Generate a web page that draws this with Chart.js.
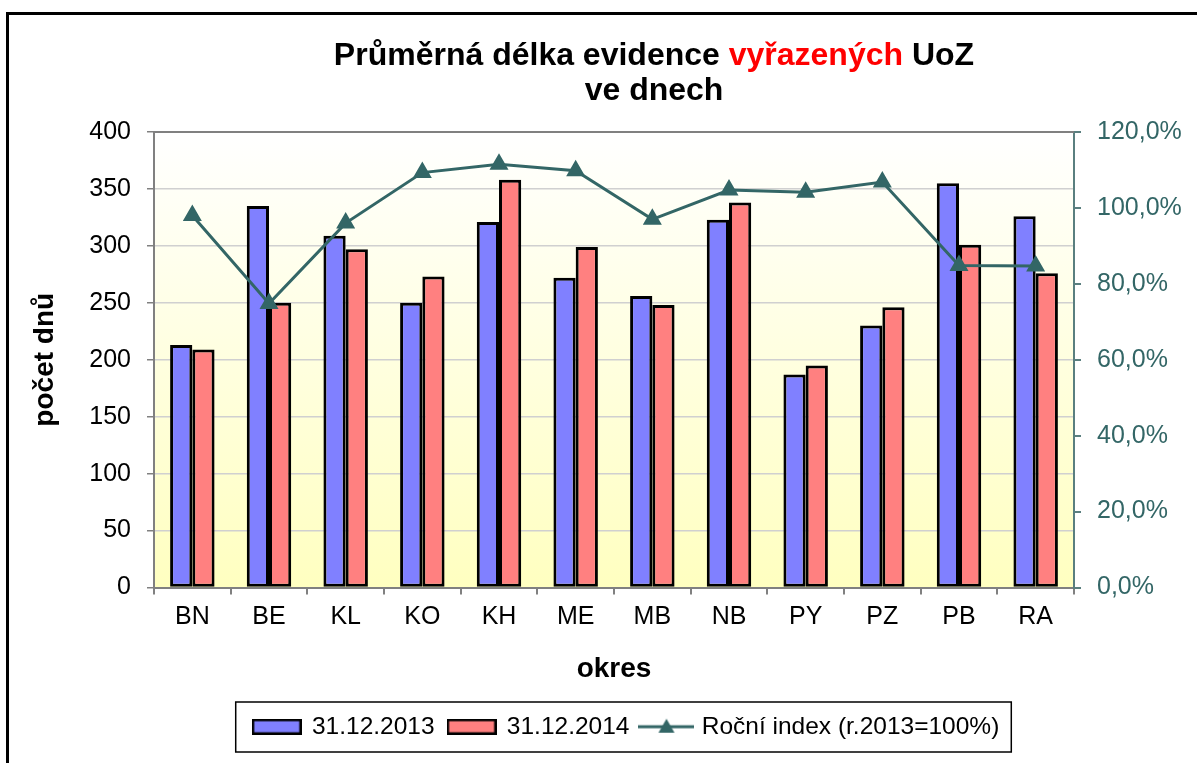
<!DOCTYPE html>
<html>
<head>
<meta charset="utf-8">
<script src="https://cdn.jsdelivr.net/npm/chart.js@4"></script>
<style>
  body { margin: 0; background: #fff; }
  #wrap { width: 1197px; height: 763px; }
</style>
</head>
<body>
<div id="wrap"><canvas id="chart-okresy" width="1197" height="763"></canvas></div>
<script>
var okresy = ['BN', 'BE', 'KL', 'KO', 'KH', 'ME', 'MB', 'NB', 'PY', 'PZ', 'PB', 'RA'];
var stav2013 = [213, 335, 309, 250, 321, 272, 256, 323, 187, 230, 355, 326];
var stav2014 = [209, 250, 297, 273, 358, 299, 248, 338, 195, 246, 301, 276];
var rocniIndex = [98.0, 74.8, 96.0, 109.3, 111.5, 109.8, 97.0, 104.7, 104.1, 106.8, 84.8, 84.7];
var dnyTicks = [0, 400, 50];
var indexTicks = [0, 120, 20];

var font = '"Liberation Sans", Arial, sans-serif';
var teal = '#336666';

// legend symbols
function barSymbol(color) {
    var c = document.createElement('canvas');
    c.width = 50; c.height = 16;
    var g = c.getContext('2d');
    g.fillStyle = color;
    g.fillRect(1, 1, 48, 14);
    g.lineWidth = 2.5;
    g.strokeStyle = '#000';
    g.strokeRect(1.25, 1.25, 47.5, 13.5);
    return c;
}
function lineSymbol() {
    var c = document.createElement('canvas');
    c.width = 56; c.height = 20;
    var g = c.getContext('2d');
    g.strokeStyle = teal;
    g.lineWidth = 3;
    g.beginPath(); g.moveTo(0, 10); g.lineTo(56, 10); g.stroke();
    g.fillStyle = teal;
    g.beginPath(); g.moveTo(28, 2); g.lineTo(36, 16); g.lineTo(20, 16); g.closePath(); g.fill();
    return c;
}
var symbols = [barSymbol('#8080FF'), barSymbol('#FF8080'), lineSymbol()];

var decor = {
    id: 'decor',
    beforeDraw: function (chart) {
        var ctx = chart.ctx, a = chart.chartArea;
        var grad = ctx.createLinearGradient(0, a.top, 0, a.bottom);
        grad.addColorStop(0, '#FFFFFF');
        grad.addColorStop(1, '#FFFFC0');
        ctx.save();
        ctx.fillStyle = grad;
        ctx.fillRect(a.left, a.top, a.right - a.left, a.bottom - a.top);
        ctx.restore();
    },
    beforeDatasetsDraw: function (chart) {
        var ctx = chart.ctx, a = chart.chartArea;
        ctx.save();
        ctx.strokeStyle = '#808080';
        ctx.lineWidth = 2;
        ctx.beginPath(); ctx.moveTo(a.left, a.top); ctx.lineTo(a.right, a.top); ctx.stroke();
        ctx.restore();
    },
    afterLayout: function (chart) {
        // legend sits a bit right of the canvas centre
        chart.legend.left += 28;
        chart.legend.right += 28;
    },
    afterDraw: function (chart) {
        var ctx = chart.ctx;
        ctx.save();
        // outer frame
        ctx.lineWidth = 3;
        ctx.strokeStyle = '#000';
        ctx.strokeRect(7.5, 13.5, 1400, 1000);

        // title, one word in red
        ctx.font = 'bold 32px ' + font;
        ctx.textBaseline = 'middle';
        var parts = [['Průměrná délka evidence ', '#000'], ['vyřazených', '#FF0000'], [' UoZ', '#000']];
        var total = 0;
        parts.forEach(function (p) { total += ctx.measureText(p[0]).width; });
        var x = 654 - total / 2;
        parts.forEach(function (p) {
            ctx.fillStyle = p[1];
            ctx.fillText(p[0], x, 56);
            x += ctx.measureText(p[0]).width;
        });
        ctx.textAlign = 'center';
        ctx.fillStyle = '#000';
        ctx.fillText('ve dnech', 654, 91);

        // legend frame
        var lg = chart.legend, pad = lg.options.labels.padding;
        var w = lg.lineWidths[0];
        var rowLeft = (lg.left + pad + lg.right - w) / 2;
        ctx.lineWidth = 1.5;
        ctx.strokeStyle = '#000';
        ctx.strokeRect(rowLeft - 18, 702, w - pad + 30, 50);
        ctx.restore();
    }
};

var chartOkresy = new Chart(document.getElementById('chart-okresy'), {
    type: 'bar',
    data: {
        labels: okresy,
        datasets: [{
            label: '31.12.2013',
            data: stav2013,
            backgroundColor: '#8080FF',
            borderColor: '#000',
            borderWidth: 3,
            borderSkipped: false,
            categoryPercentage: 0.58,
            barPercentage: 1,
            yAxisID: 'y',
            order: 1
        }, {
            label: '31.12.2014',
            data: stav2014,
            backgroundColor: '#FF8080',
            borderColor: '#000',
            borderWidth: 3,
            borderSkipped: false,
            categoryPercentage: 0.58,
            barPercentage: 1,
            yAxisID: 'y',
            order: 1
        }, {
            type: 'line',
            label: 'Roční index (r.2013=100%)',
            data: rocniIndex,
            borderColor: teal,
            borderWidth: 3,
            tension: 0,
            pointStyle: 'triangle',
            pointRadius: 8,
            pointBackgroundColor: teal,
            pointBorderColor: teal,
            yAxisID: 'y1',
            order: 0
        }]
    },
    options: {
        responsive: false,
        animation: false,
        layout: { padding: { top: 132, left: 0, right: 0, bottom: 14 } },
        plugins: {
            tooltip: { enabled: false },
            legend: {
                display: true,
                position: 'bottom',
                labels: {
                    usePointStyle: true,
                    pointStyleWidth: 46,
                    padding: 14,
                    color: '#000',
                    font: { family: font, size: 24.5 },
                    generateLabels: function (chart) {
                        var items = Chart.defaults.plugins.legend.labels.generateLabels(chart);
                        items.forEach(function (it) { it.pointStyle = symbols[it.datasetIndex]; });
                        return items;
                    },
                    sort: function (a, b) { return a.datasetIndex - b.datasetIndex; }
                }
            }
        },
        scales: {
            x: {
                offset: true,
                grid: { drawOnChartArea: false, tickLength: 7, tickColor: '#808080', lineWidth: 2 },
                border: { color: '#808080', width: 2 },
                ticks: { color: '#000', font: { family: font, size: 25 }, padding: 8, autoSkip: false, maxRotation: 0 },
                title: { display: true, text: 'okres', color: '#000', font: { family: font, size: 28, weight: 'bold' }, padding: { top: 0, bottom: 14 } },
                afterFit: function (s) { s.height = 113; }
            },
            y: {
                position: 'left',
                min: dnyTicks[0],
                max: dnyTicks[1],
                ticks: { stepSize: dnyTicks[2], color: '#000', font: { family: font, size: 25 }, padding: 16 },
                grid: { color: '#d0d0d0', lineWidth: 1.5, tickLength: 7, tickColor: '#808080' },
                border: { color: '#808080', width: 2 },
                title: { display: true, text: 'počet dnů', color: '#000', font: { family: font, size: 28, weight: 'bold' }, padding: { top: 28, bottom: 0 } },
                afterFit: function (s) { s.width = 154; }
            },
            y1: {
                position: 'right',
                min: indexTicks[0],
                max: indexTicks[1],
                ticks: {
                    stepSize: indexTicks[2], color: teal, font: { family: font, size: 25 }, padding: 16,
                    callback: function (v) { return v.toFixed(1).replace('.', ',') + '%'; }
                },
                grid: { drawOnChartArea: false, tickLength: 7, tickColor: '#5a7f7f', lineWidth: 2 },
                border: { color: '#5a7f7f', width: 2 },
                afterFit: function (s) { s.width = 123; }
            }
        }
    },
    plugins: [decor]
});
</script>
</body>
</html>
